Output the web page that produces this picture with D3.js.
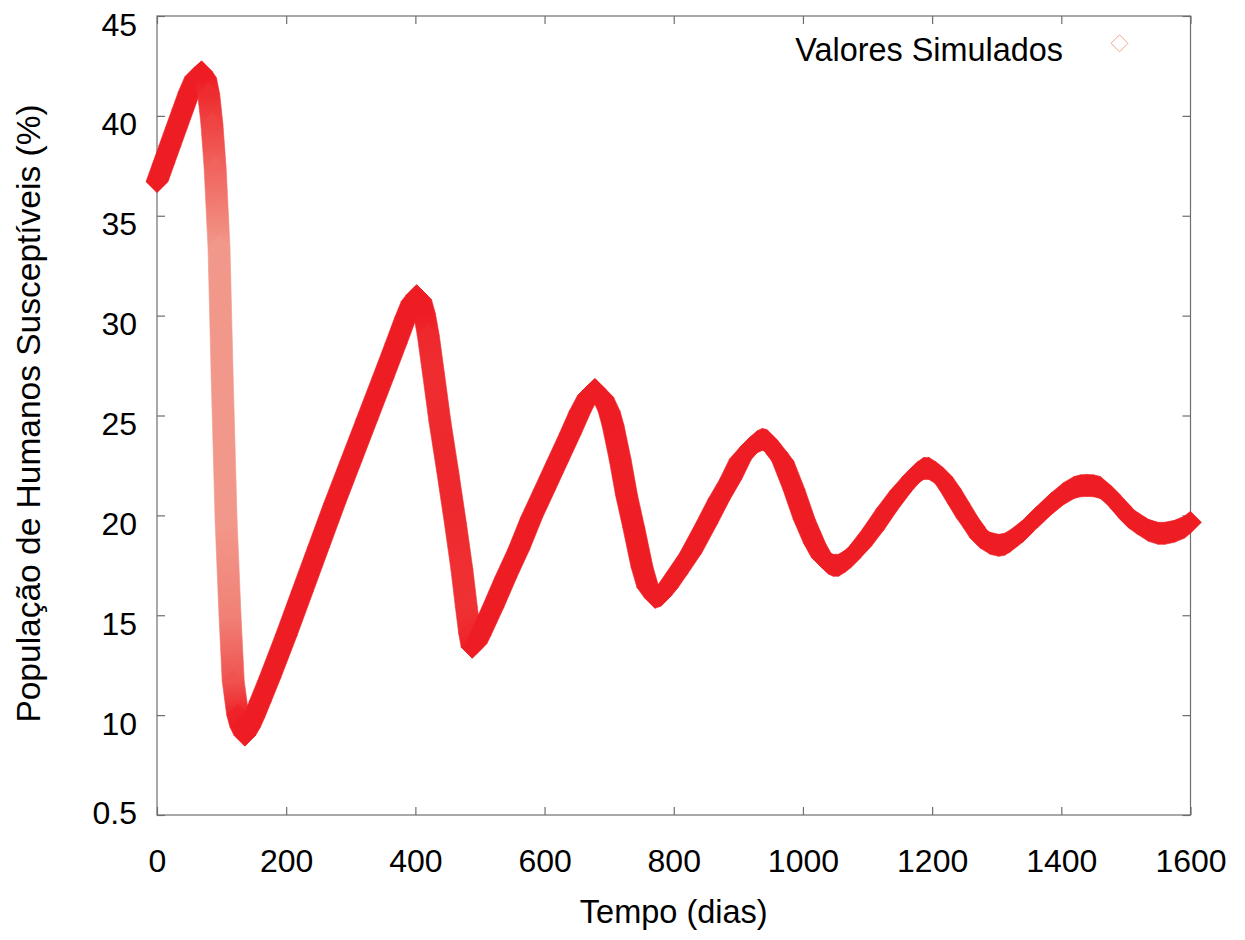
<!DOCTYPE html>
<html>
<head>
<meta charset="utf-8">
<script src="https://cdn.jsdelivr.net/npm/d3@7"></script>
<style>
  body { margin: 0; background: #ffffff; }
  text { font-family: "Liberation Sans", Arial, sans-serif; fill: #000; }
</style>
</head>
<body>
<svg id="chart" width="1245" height="940"></svg>
<script>
// Simulated susceptible human population over time
const days = [
  0, 10, 20, 30, 40, 50, 60, 69, 75, 80, 85, 90, 96, 101, 107, 113, 118, 125, 130, 136,
  143, 150, 160, 175, 200, 225, 250, 275, 300, 325, 350, 370, 385, 395, 402,
  408, 414, 420, 428, 438, 450, 462, 472, 479, 484, 488, 494, 500,
  520, 540, 560, 580, 600, 620, 640, 655, 668, 678,
  690, 700, 706, 717, 727, 738, 751, 760, 771, 780, 790,
  805, 826, 851, 870, 888, 903, 919, 930, 937, 944,
  950, 960, 969, 986, 1002, 1018, 1030, 1040, 1047, 1055, 1065, 1073,
  1090, 1109, 1130, 1151, 1170, 1178, 1187, 1195, 1205, 1215, 1228, 1241, 1254, 1265, 1275, 1290, 1303, 1312,
  1320, 1340, 1362, 1385, 1404, 1420, 1430, 1440, 1450, 1460, 1475, 1492, 1505, 1518, 1535, 1550, 1560,
  1575, 1590, 1600
];
const susceptiveis = [
  36.7, 37.6, 38.5, 39.4, 40.3, 41.2, 41.95, 42.2, 41.9, 41.1, 39.6, 37.4, 33.4, 26.8, 19.7, 15.0, 11.7, 10.0, 9.4, 9.0,
  9.4, 9.9, 10.7, 11.9, 14.0, 16.2, 18.4, 20.6, 22.7, 24.8, 26.9, 28.6, 29.9, 30.7, 31.0,
  30.8, 30.1, 29.0, 27.1, 24.7, 22.2, 19.6, 17.3, 15.4, 14.1, 13.4, 13.6, 14.0,
  15.4, 16.9, 18.3, 19.9, 21.3, 22.7, 24.1, 25.2, 26.0, 26.3,
  25.9, 25.2, 24.5, 22.8, 21.0, 19.4, 17.4, 16.4, 15.9, 16.0, 16.4,
  17.1, 18.1, 19.6, 20.8, 21.8, 22.8, 23.4, 23.7, 23.8, 23.75,
  23.5, 23.1, 22.7, 21.3, 19.8, 18.6, 17.9, 17.6, 17.5, 17.5, 17.7, 17.9,
  18.5, 19.3, 20.3, 21.2, 21.9, 22.15, 22.35, 22.35, 22.15, 21.9, 21.3, 20.6, 19.9, 19.4, 18.9, 18.6, 18.5, 18.55,
  18.7, 19.2, 19.9, 20.6, 21.1, 21.4, 21.48, 21.5, 21.48, 21.4, 21.0, 20.4, 19.9, 19.6, 19.25, 19.1, 19.1,
  19.2, 19.4, 19.65
];

const xTickValues = [0, 200, 400, 600, 800, 1000, 1200, 1400, 1600];
const yTickValues = [5, 10, 15, 20, 25, 30, 35, 40, 45];
const yTickLabels = ["0.5", "10", "15", "20", "25", "30", "35", "40", "45"];

const xTitle = "Tempo (dias)";
const yTitle = "População de Humanos Susceptíveis (%)";
const legendLabel = "Valores Simulados";

const svg = d3.select("#chart");
const defs = svg.append("defs");

const x = d3.scaleLinear().domain([0, 1600]).range([157, 1190.5]);
const y = d3.scaleLinear().domain([5, 45]).range([815, 16]);

const frameColor = "#6e6e6e";
const tickLen = 8;

// ---- axes with inward ticks on all four sides ----
function styleAxis(g) {
  g.select(".domain").remove();
  g.selectAll(".tick line").attr("stroke", frameColor).attr("stroke-width", 1.2);
}

const gBottom = svg.append("g")
  .attr("transform", `translate(0,${y(5)})`)
  .call(d3.axisBottom(x).tickValues(xTickValues).tickSizeInner(-tickLen).tickSizeOuter(0)
    .tickFormat(d3.format("d")))
  .call(styleAxis);
gBottom.selectAll(".tick text")
  .attr("y", 57).attr("dy", null)
  .style("font-size", "32px").attr("fill", "#000");

svg.append("g")
  .attr("transform", `translate(0,${y(45)})`)
  .call(d3.axisTop(x).tickValues(xTickValues).tickSizeInner(-tickLen).tickSizeOuter(0).tickFormat(""))
  .call(styleAxis);

const gLeft = svg.append("g")
  .attr("transform", `translate(${x(0)},0)`)
  .call(d3.axisLeft(y).tickValues(yTickValues).tickSizeInner(-tickLen).tickSizeOuter(0)
    .tickFormat((d, i) => yTickLabels[i]))
  .call(styleAxis);
gLeft.selectAll(".tick text")
  .attr("x", -20).attr("dy", null)
  .attr("y", d => d === 5 ? 8 : 19)
  .style("font-size", "32px").attr("fill", "#000");

svg.append("g")
  .attr("transform", `translate(${x(1600)},0)`)
  .call(d3.axisRight(y).tickValues(yTickValues).tickSizeInner(-tickLen).tickSizeOuter(0).tickFormat(""))
  .call(styleAxis);

// plot frame
svg.append("rect")
  .attr("x", x(0)).attr("y", y(45))
  .attr("width", x(1600) - x(0)).attr("height", y(5) - y(45))
  .attr("fill", "none").attr("stroke", frameColor).attr("stroke-width", 1.2);

// ---- axis titles ----
svg.append("text")
  .attr("x", (x(0) + x(1600)) / 2).attr("y", 923)
  .attr("text-anchor", "middle")
  .style("font-size", "32.5px")
  .text(xTitle);

svg.append("text")
  .attr("transform", `translate(40,${(y(5) + y(45)) / 2 - 2}) rotate(-90)`)
  .attr("text-anchor", "middle")
  .style("font-size", "33.5px")
  .text(yTitle);

// ---- simulated series: diamond markers swept between successive samples ----
const r = 11; // diamond half-diagonal in px
const pts = days.map((d, i) => ({ px: x(d), py: y(susceptiveis[i]), day: d }));
const solid = "#ee1d23", sparse = "#f2988a";
const tint = d3.interpolateRgb(solid, sparse);

// vertical pixels covered per day: sparse markers look paler
const segRate = pts.slice(1).map((b, i) => Math.abs(b.py - pts[i].py) / (b.day - pts[i].day));
const ptRate = pts.map((p, i) => {
  const a = i > 0 ? segRate[i - 1] : segRate[0];
  const b = i < segRate.length ? segRate[i] : segRate[segRate.length - 1];
  return (a + b) / 2;
});
const ptColor = ptRate.map(v => tint(Math.max(0, Math.min(1, (v - 3) / 14))));

function diamond(p) {
  return [[p.px - r, p.py], [p.px, p.py - r], [p.px + r, p.py], [p.px, p.py + r]];
}

const segs = [];
for (let i = 0; i < pts.length - 1; i++) {
  const a = pts[i], b = pts[i + 1];
  const id = "seg" + i;
  const grad = defs.append("linearGradient")
    .attr("id", id).attr("gradientUnits", "userSpaceOnUse")
    .attr("x1", a.px).attr("y1", a.py).attr("x2", b.px).attr("y2", b.py);
  grad.append("stop").attr("offset", 0).attr("stop-color", ptColor[i]);
  grad.append("stop").attr("offset", 1).attr("stop-color", ptColor[i + 1]);
  segs.push({ hull: d3.polygonHull(diamond(a).concat(diamond(b))), id, flat: ptColor[i] === ptColor[i + 1] });
}

svg.append("g").attr("class", "series")
  .selectAll("path")
  .data(segs)
  .join("path")
  .attr("d", s => "M" + s.hull.map(p => p.join(",")).join("L") + "Z")
  .attr("fill", s => `url(#${s.id})`)
  .attr("stroke", s => `url(#${s.id})`)
  .attr("stroke-width", 0.6);

// ---- legend ----
svg.append("text")
  .attr("x", 1063).attr("y", 61)
  .attr("text-anchor", "end")
  .style("font-size", "32.4px")
  .text(legendLabel);

svg.append("path")
  .attr("d", d3.symbol(d3.symbolDiamond2, 2 * 9.6 * 9.6)())
  .attr("transform", "translate(1119.5,43.3)")
  .attr("fill", "none")
  .attr("stroke", "#f4a48e")
  .attr("stroke-width", 1);
</script>
</body>
</html>
